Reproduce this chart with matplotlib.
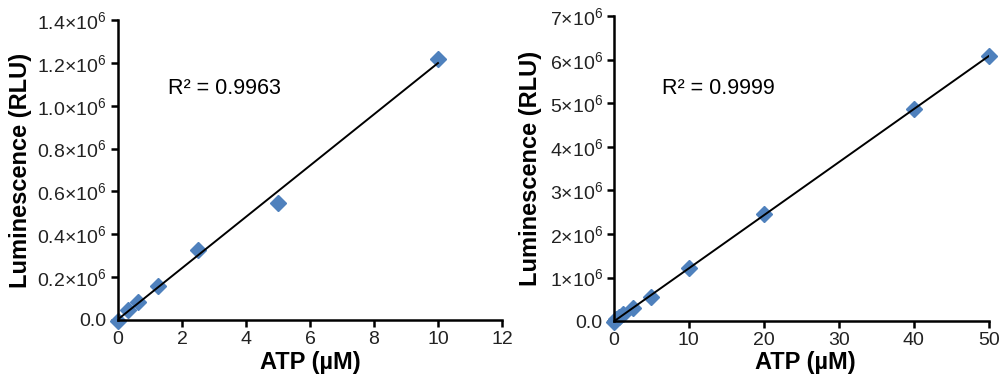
import matplotlib
matplotlib.use("Agg")
import matplotlib.pyplot as plt
import numpy as np

plt.rcParams['font.family'] = ['Liberation Sans', 'DejaVu Sans']
plt.rcParams['mathtext.fontset'] = 'custom'
plt.rcParams['mathtext.rm'] = 'Liberation Sans'
plt.rcParams['mathtext.it'] = 'Liberation Sans'

# low range standard curve
atp_low = [0, 0.3125, 0.625, 1.25, 2.5, 5, 10]
lum_low = [-0.005e6, 0.045e6, 0.085e6, 0.16e6, 0.325e6, 0.545e6, 1.22e6]
r2_low = "R\u00b2 = 0.9963"
xticks_low = [0, 2, 4, 6, 8, 10, 12]
yticks_low = [0, 0.2e6, 0.4e6, 0.6e6, 0.8e6, 1.0e6, 1.2e6, 1.4e6]
ylabels_low = ["0.0"] + [r"$\mathregular{%.1f{\times}10^{6}}$" % (v / 1e6) for v in yticks_low[1:]]

# full range standard curve
atp_high = [0, 0.3125, 0.625, 1.25, 2.5, 5, 10, 20, 40, 50]
lum_high = [-0.02e6, 0.04e6, 0.085e6, 0.16e6, 0.31e6, 0.55e6, 1.22e6, 2.45e6, 4.87e6, 6.08e6]
r2_high = "R\u00b2 = 0.9999"
xticks_high = [0, 10, 20, 30, 40, 50]
yticks_high = [0, 1e6, 2e6, 3e6, 4e6, 5e6, 6e6, 7e6]
ylabels_high = ["0.0"] + [r"$\mathregular{%d{\times}10^{6}}$" % (v / 1e6) for v in yticks_high[1:]]

blue = '#4f81bd'

fig = plt.figure(figsize=(10.08, 3.86), dpi=100)
ax1 = fig.add_axes([0.117, 0.171, 0.381, 0.777])
ax2 = fig.add_axes([0.609, 0.168, 0.372, 0.790])


def draw(ax, x, y, r2, xticks, yticks, ylabels, r2pos):
    x = np.array(x)
    y = np.array(y)
    k, b = np.polyfit(x, y, 1)
    xs = np.array([0, x.max()])
    ax.plot(xs, k * xs + b, color='black', lw=1.4, zorder=3)
    ax.plot(x, y, 'D', color=blue, ms=8.5, mec=blue, clip_on=False, zorder=2)
    ax.set_xlim(xticks[0], xticks[-1])
    ax.set_ylim(yticks[0], yticks[-1])
    ax.set_xticks(xticks)
    ax.set_yticks(yticks)
    ax.set_yticklabels(ylabels)
    for s in ['top', 'right']:
        ax.spines[s].set_visible(False)
    for s in ['left', 'bottom']:
        ax.spines[s].set_linewidth(1.8)
    ax.tick_params(width=1.8, length=5, labelsize=14, pad=3, colors='#222222')
    ax.tick_params(color='black')
    ax.set_xlabel("ATP (\u00b5M)", fontsize=17, fontweight='bold')
    ax.set_ylabel("Luminescence (RLU)", fontsize=17, fontweight='bold')
    ax.text(r2pos[0], r2pos[1], r2, transform=ax.transAxes, fontsize=15.5,
            va='center', ha='left')


draw(ax1, atp_low, lum_low, r2_low, xticks_low, yticks_low, ylabels_low, (0.13, 0.773))
draw(ax2, atp_high, lum_high, r2_high, xticks_high, yticks_high, ylabels_high, (0.128, 0.764))
ax1.yaxis.set_label_coords(-0.224, 0.5)
ax2.yaxis.set_label_coords(-0.192, 0.5)
ax1.xaxis.set_label_coords(0.5, -0.102)
ax2.xaxis.set_label_coords(0.51, -0.098)

fig.savefig("out.png", dpi=100)
